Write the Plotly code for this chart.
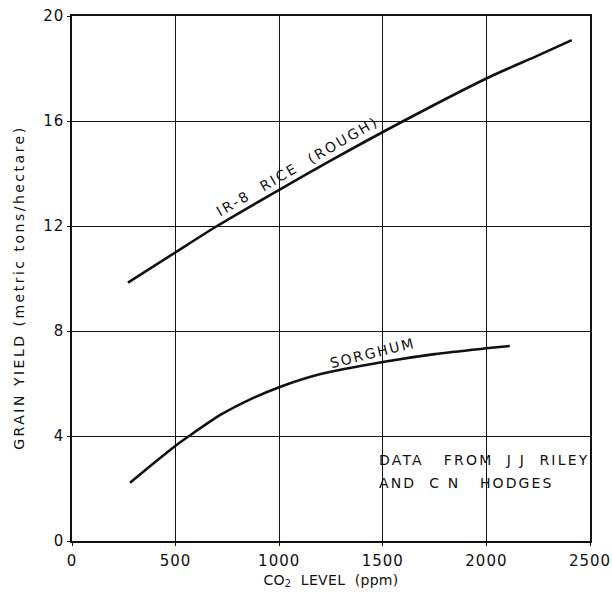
import plotly.graph_objects as go

# CO2 levels (ppm) and grain yields (metric tons/hectare)
rice_co2 = [270, 500, 700, 1000, 1250, 1600, 2000, 2250, 2412]
rice_yield = [9.84, 11.0, 12.0, 13.38, 14.5, 16.0, 17.62, 18.5, 19.08]

sorghum_co2 = [280, 400, 500, 560, 720, 850, 1000, 1200, 1500, 1750, 2000, 2113]
sorghum_yield = [2.22, 3.0, 3.63, 3.97, 4.82, 5.36, 5.86, 6.36, 6.82, 7.12, 7.34, 7.43]

x_ticks = [0, 500, 1000, 1500, 2000, 2500]
y_ticks = [0, 4, 8, 12, 16, 20]

FONT = "DejaVu Sans"
INK = "#111111"


def spaced(text, px):
    """Wrap text in a span with extra letter spacing (stencil-lettering look)."""
    return f'<span style="letter-spacing:{px}px">{text}</span>'


fig = go.Figure()
fig.add_trace(go.Scatter(x=rice_co2, y=rice_yield, mode="lines",
                         line=dict(color=INK, width=2.6, shape="spline", smoothing=0.8),
                         name="IR-8 RICE (ROUGH)", showlegend=False))
fig.add_trace(go.Scatter(x=sorghum_co2, y=sorghum_yield, mode="lines",
                         line=dict(color=INK, width=2.6, shape="spline", smoothing=0.8),
                         name="SORGHUM", showlegend=False))

lab_font = dict(size=14, color=INK, family=FONT)
plot_l, plot_r, plot_t, plot_b = 72, 590, 16, 541.5
W, H = 612, 592

annotations = [
    dict(x=1090, y=14.3, text=spaced("IR-8  RICE  (ROUGH)", 2.3), textangle=-30,
         showarrow=False, font=lab_font),
    dict(x=1450, y=7.15, text=spaced("SORGHUM", 2), textangle=-14,
         showarrow=False, font=lab_font),
    dict(x=1472, y=3.07, text=spaced("DATA   FROM  J J  RILEY", 2.2), xanchor="left",
         showarrow=False, font=lab_font),
    dict(x=1472, y=2.2, text=spaced("AND  C N   HODGES", 2.1), xanchor="left",
         showarrow=False, font=lab_font),
    # y-axis title, placed in paper coordinates from a pixel centre
    dict(x=(19 - plot_l) / (plot_r - plot_l), xref="paper", xanchor="center",
         y=(plot_b - 288) / (plot_b - plot_t), yref="paper", yanchor="middle",
         text=spaced("GRAIN YIELD (metric tons/hectare)", 2.5), textangle=-90,
         showarrow=False, font=dict(size=14, color=INK, family=FONT)),
]

fig.update_layout(
    width=W, height=H,
    margin=dict(l=plot_l, r=W - plot_r, t=plot_t, b=H - plot_b),
    paper_bgcolor="white", plot_bgcolor="white",
    font=dict(family=FONT, color=INK, size=14),
    annotations=annotations,
    xaxis=dict(range=[0, 2500], tickvals=x_ticks,
               ticktext=[spaced(str(v), 1) for v in x_ticks],
               showgrid=True, gridcolor=INK, gridwidth=1,
               showline=True, linecolor=INK, linewidth=1.5, mirror=True,
               zeroline=False, ticks="outside", ticklen=3, tickcolor=INK,
               ticklabelstandoff=2, automargin=False,
               tickfont=dict(size=15, family=FONT),
               title=dict(text=spaced("CO<sub>2</sub>  LEVEL  (ppm)", 0.3), standoff=6,
                          font=dict(size=14, family=FONT))),
    yaxis=dict(range=[0, 20], tickvals=y_ticks,
               ticktext=[spaced(str(v), 1) for v in y_ticks],
               showgrid=True, gridcolor=INK, gridwidth=1,
               showline=True, linecolor=INK, linewidth=1.5, mirror=True,
               zeroline=False, ticks="outside", ticklen=3, tickcolor=INK,
               ticklabelstandoff=0, automargin=False,
               tickfont=dict(size=15, family=FONT)),
)

fig.write_html("out.html")
